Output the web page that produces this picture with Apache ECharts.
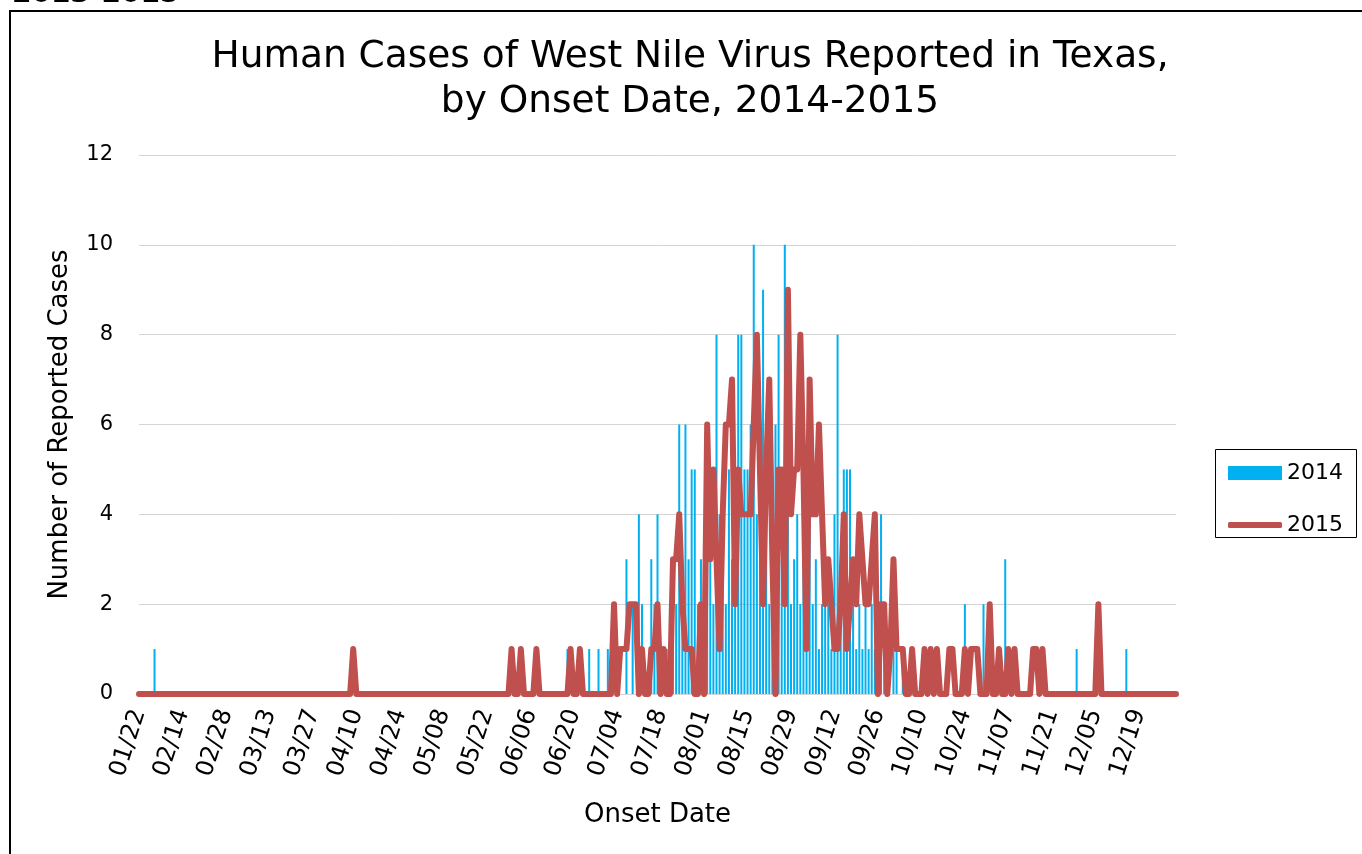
<!DOCTYPE html>
<html>
<head>
<meta charset="utf-8">
<script src="https://cdn.jsdelivr.net/npm/echarts@6/dist/echarts.min.js"></script>
<style>html,body{margin:0;padding:0;background:#fff}#chart{width:1362px;height:854px}</style>
</head>
<body>
<div id="chart"></div>
<script>
// Tick labels shown every 14 categories on the x axis
var tickLabels = ['01/22','02/14','02/28','03/13','03/27','04/10','04/24','05/08','05/22','06/06','06/20','07/04',
                  '07/18','08/01','08/15','08/29','09/12','09/26','10/10','10/24','11/07','11/21','12/05','12/19'];

// 2014 daily cases (bars), one row per label period of 14 categories
var cases2014 = [
  0,0,0,0,0,1,0,0,0,0,0,0,0,0,
  0,0,0,0,0,0,0,0,0,0,0,0,0,0,
  0,0,0,0,0,0,0,0,0,0,0,0,0,0,
  0,0,0,0,0,0,0,0,0,0,0,0,0,0,
  0,0,0,0,0,0,0,0,0,0,0,0,0,0,
  0,0,0,0,0,0,0,0,0,0,0,0,0,0,
  0,0,0,0,0,0,0,0,0,0,0,0,0,0,
  0,0,0,0,0,0,0,0,0,0,0,0,0,0,
  0,0,0,0,0,0,0,0,0,0,0,0,0,0,
  0,0,0,0,0,0,0,0,0,0,0,0,1,0,
  0,0,0,0,0,1,0,0,1,0,0,1,0,0,
  0,0,0,3,0,2,0,4,2,0,0,3,2,4,
  0,1,1,2,1,2,6,2,6,3,5,5,2,3,
  2,4,3,2,8,4,3,2,5,3,4,8,8,5,
  5,6,10,4,3,9,4,2,4,6,8,3,10,4,
  2,3,4,2,3,2,4,2,3,1,2,3,2,1,
  4,8,2,5,5,5,2,1,2,1,2,1,2,1,
  1,4,1,1,0,1,1,0,1,0,0,0,0,0,
  0,0,0,0,0,0,0,0,0,0,0,0,0,0,
  2,0,0,0,0,0,2,0,0,0,0,0,0,3,
  0,0,0,0,0,0,0,0,0,0,0,0,0,0,
  0,0,0,0,0,0,0,0,1,0,0,0,0,0,
  0,0,0,0,0,0,0,0,0,0,1,0,0,0,
  0,0,0,0,0,0,0,0,0,0,0,0,0
];

// 2015 daily cases (line)
var cases2015 = [
  0,0,0,0,0,0,0,0,0,0,0,0,0,0,
  0,0,0,0,0,0,0,0,0,0,0,0,0,0,
  0,0,0,0,0,0,0,0,0,0,0,0,0,0,
  0,0,0,0,0,0,0,0,0,0,0,0,0,0,
  0,0,0,0,0,0,0,0,0,0,0,0,0,1,
  0,0,0,0,0,0,0,0,0,0,0,0,0,0,
  0,0,0,0,0,0,0,0,0,0,0,0,0,0,
  0,0,0,0,0,0,0,0,0,0,0,0,0,0,
  0,0,0,0,0,0,0,0,1,0,0,1,0,0,
  0,0,1,0,0,0,0,0,0,0,0,0,0,1,
  0,0,1,0,0,0,0,0,0,0,0,0,0,2,
  0,1,1,1,2,2,2,0,1,0,0,1,1,2,
  0,1,0,0,3,3,4,2,1,1,1,0,0,2,
  0,6,3,5,3,1,4,6,6,7,2,5,4,4,
  4,4,6,8,5,2,5,7,3,0,5,5,2,9,
  4,5,5,8,5,1,7,4,4,6,4,2,3,2,
  1,1,2,4,1,2,3,2,4,3,2,2,3,4,
  0,2,2,0,1,3,1,1,1,0,0,1,0,0,
  0,1,0,1,0,1,0,0,0,1,1,0,0,0,
  1,0,1,1,1,0,0,0,2,0,0,1,0,0,
  1,0,1,0,0,0,0,0,1,1,0,1,0,0,
  0,0,0,0,0,0,0,0,0,0,0,0,0,0,
  0,2,0,0,0,0,0,0,0,0,0,0,0,0,
  0,0,0,0,0,0,0,0,0,0,0,0,0
];

var seriesNames = ['2014', '2015'];
var titleLines = ['Human Cases of West Nile Virus Reported in Texas,', 'by Onset Date, 2014-2015'];
var yTicks = { min: 0, max: 12, interval: 2 };

var TICK_EVERY = 14;
var categories = cases2015.map(function (v, i) {
  return (i % TICK_EVERY === 0 && tickLabels[i / TICK_EVERY]) ? tickLabels[i / TICK_EVERY] : ('#' + i);
});

var FONT = 'DejaVu Sans';
var chart = echarts.init(document.getElementById('chart'), null, { renderer: 'canvas' });
chart.setOption({
  animation: false,
  backgroundColor: '#fff',
  graphic: [
    { type: 'rect', shape: { x: 10, y: 11, width: 1400, height: 900 }, style: { fill: 'none', stroke: '#000', lineWidth: 2 }, silent: true },
    { type: 'text', x: 12, y: 9, style: { text: '2013-2015', font: 'bold 28px "DejaVu Sans"', fill: '#000', verticalAlign: 'bottom' }, silent: true },
    { type: 'text', x: 690, y: 35, style: { text: titleLines.join('\n'), font: '37.5px "DejaVu Sans"', fill: '#000', align: 'center', verticalAlign: 'top', lineHeight: 45 }, silent: true },
    { type: 'rect', shape: { x: 1215.5, y: 449.5, width: 141, height: 88 }, style: { fill: 'none', stroke: '#000', lineWidth: 1 }, silent: true }
  ],
  legend: [
    {
      left: 1228, top: 462, padding: 0,
      itemWidth: 54, itemHeight: 14,
      textStyle: { fontFamily: FONT, fontSize: 22, color: '#000' },
      data: [{ name: seriesNames[0], icon: 'rect' }]
    },
    {
      left: 1228, top: 514, padding: 0,
      itemWidth: 54, itemHeight: 6,
      textStyle: { fontFamily: FONT, fontSize: 22, color: '#000' },
      data: [{ name: seriesNames[1], icon: 'roundRect' }]
    }
  ],
  grid: { left: 139, right: 186, top: 155, bottom: 160, containLabel: false },
  xAxis: {
    type: 'category',
    data: categories,
    boundaryGap: false,
    name: 'Onset Date',
    nameLocation: 'middle',
    nameGap: 108,
    nameTextStyle: { fontFamily: FONT, fontSize: 26, color: '#000' },
    axisLine: { show: true, lineStyle: { color: '#d4d4d4', width: 1 } },
    axisTick: { show: false },
    axisLabel: {
      interval: TICK_EVERY - 1,
      rotate: 72,
      margin: 16,
      fontFamily: FONT,
      fontSize: 24,
      color: '#000',
      formatter: function (v) { return v.charAt(0) === '#' ? '' : v; }
    },
    splitLine: { show: false }
  },
  yAxis: {
    type: 'value',
    min: yTicks.min,
    max: yTicks.max,
    interval: yTicks.interval,
    name: 'Number of Reported Cases',
    nameLocation: 'middle',
    nameGap: 66,
    nameTextStyle: { fontFamily: FONT, fontSize: 26, color: '#000' },
    axisLine: { show: false },
    axisTick: { show: false },
    axisLabel: { fontFamily: FONT, fontSize: 21, color: '#000', margin: 26 },
    splitLine: { show: true, lineStyle: { color: '#d4d4d4', width: 1 } }
  },
  series: [
    {
      name: seriesNames[0],
      type: 'bar',
      data: cases2014,
      barWidth: 2,
      itemStyle: { color: '#00B0F0' },
      z: 2
    },
    {
      name: seriesNames[1],
      type: 'line',
      data: cases2015,
      symbol: 'none',
      showSymbol: false,
      lineStyle: { color: '#C0504D', width: 6, cap: 'round', join: 'round' },
      itemStyle: { color: '#C0504D' },
      z: 3
    }
  ]
});
</script>
</body>
</html>
